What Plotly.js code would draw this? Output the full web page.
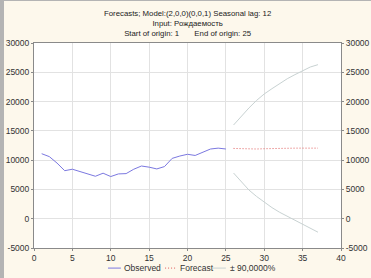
<!DOCTYPE html>
<html><head><meta charset="utf-8">
<script src="https://cdn.plot.ly/plotly-3.0.1.min.js"></script>
<style>
html,body{margin:0;padding:0;background:#fdf8ec;}
#wrap{width:367px;height:277px;border-left:4px solid #b4b4b4;border-top:1px solid #b4b4b4;}
#chart{width:367px;height:277px;}
</style></head>
<body><div id="wrap"><div id="chart"></div></div>
<script>
const obsT = [1,2,3,4,5,6,7,8,9,10,11,12,13,14,15,16,17,18,19,20,21,22,23,24,25];
const observed = [11100,10600,9500,8200,8450,8050,7650,7250,7770,7200,7650,7700,8450,9000,8800,8500,8900,10300,10700,11000,10800,11300,11900,12050,11900];
const fcT = [26,27,28,29,30,31,32,33,34,35,36,37];
const forecast = [12000,11950,11850,11900,11950,12000,12000,12000,12050,12050,12050,12050];
const upper = [16000,17500,18900,20200,21300,22200,23100,23900,24600,25300,25900,26300];
const lower = [7800,6300,4900,3800,2800,1900,1100,400,-300,-1000,-1700,-2300];
const xTicks = [0,5,10,15,20,25,30,35,40];
const yTicks = [-5000,0,5000,10000,15000,20000,25000,30000];
const titleText = "Forecasts; Model:(2,0,0)(0,0,1) Seasonal lag: 12<br>Input: Рождаемость<br>Start of origin: 1&nbsp;&nbsp;&nbsp;&nbsp;&nbsp;&nbsp;&nbsp;End of origin: 25";
const legendNames = ["Observed","Forecast","± 90,0000%"];

const font = {family:"Liberation Sans, Arial, sans-serif", size:8.5, color:"#333"};
const obsStyle = {color:"#7b78e0", width:1};
const fcStyle = {color:"#e05a5a", width:1, dash:"1px,2px"};
const ciStyle = {color:"#c8d2d2", width:1};
const traces = [
  {x:obsT, y:observed, type:"scatter", mode:"lines", name:legendNames[0], line:obsStyle},
  {x:fcT, y:forecast, type:"scatter", mode:"lines", name:legendNames[1], line:fcStyle},
  {x:fcT, y:upper, type:"scatter", mode:"lines", name:legendNames[2], line:ciStyle},
  {x:fcT, y:lower, type:"scatter", mode:"lines", name:"lower", line:ciStyle},
  {x:[0], y:[0], yaxis:"y2", type:"scatter", mode:"none", hoverinfo:"skip"}
];
const yax = {range:[-5000,30000], tickvals:yTicks, ticktext:yTicks.map(String), showgrid:true, gridcolor:"#e2e2e2", zeroline:false, showline:true, linecolor:"#8a8a8a", linewidth:1, ticks:"outside", ticklen:2, tickcolor:"#8a8a8a", tickfont:font};

// custom legend (short line samples like the reference)
const legX = [[0.241,0.283,0.293],[0.427,0.466,0.475],[0.583,0.625,0.638]];
const legStyles = [obsStyle, fcStyle, ciStyle];
const legY = -0.098;
const shapes = legX.map((p,i)=>({type:"line", xref:"paper", yref:"paper", x0:p[0], x1:p[1], y0:legY, y1:legY, line:legStyles[i]}));
const annotations = [
  {text:titleText, xref:"paper", yref:"paper", x:0.5, xanchor:"center", y:1.093, yanchor:"middle", showarrow:false, font:Object.assign({}, font, {size:7.8, color:"#222"})}
].concat(legX.map((p,i)=>({text:legendNames[i], xref:"paper", yref:"paper", x:p[2], xanchor:"left", y:legY, yanchor:"middle", showarrow:false, xshift:-2, font:font})));

const layout = {
  width:367, height:277,
  margin:{l:30, r:30, t:42, b:30, pad:0},
  paper_bgcolor:"#fdf8ec", plot_bgcolor:"#ffffff",
  font:font,
  showlegend:false,
  xaxis:{range:[0,40], tickvals:xTicks, showgrid:true, gridcolor:"#e2e2e2", zeroline:false, showline:true, mirror:true, linecolor:"#8a8a8a", linewidth:1, ticks:"outside", ticklen:2, tickcolor:"#8a8a8a", tickfont:font},
  yaxis:Object.assign({}, yax, {mirror:true}),
  yaxis2:Object.assign({}, yax, {overlaying:"y", side:"right", showgrid:false}),
  shapes:shapes,
  annotations:annotations
};
Plotly.newPlot("chart", traces, layout, {displayModeBar:false, staticPlot:true});
</script></body></html>
